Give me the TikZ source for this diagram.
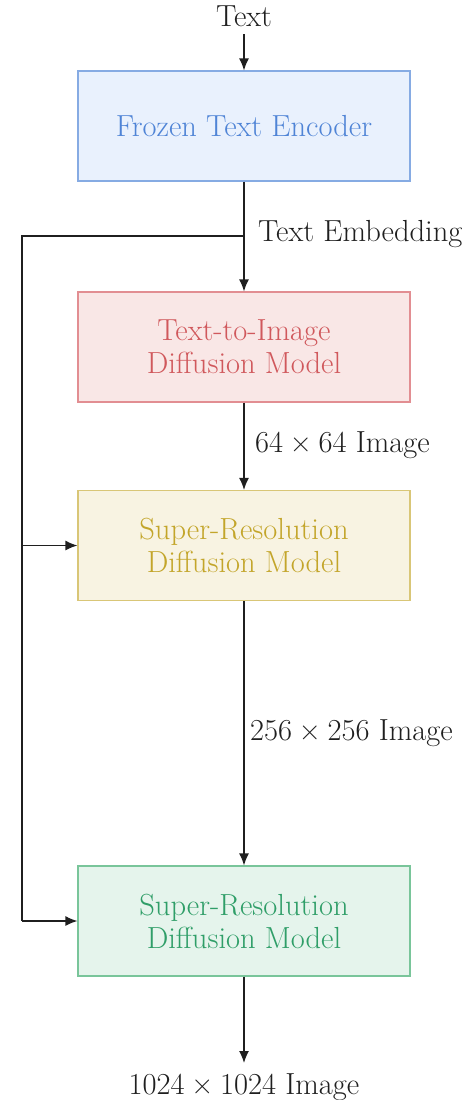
\documentclass[tikz,border=0pt]{standalone}
\usetikzlibrary{arrows.meta}
\definecolor{bluefill}{HTML}{E9F1FD}
\definecolor{blueline}{HTML}{86ABE3}
\definecolor{bluetext}{HTML}{4F84D6}
\definecolor{redfill}{HTML}{F9E7E6}
\definecolor{redline}{HTML}{E28E92}
\definecolor{redtext}{HTML}{D0585C}
\definecolor{yelfill}{HTML}{F8F3E2}
\definecolor{yelline}{HTML}{D9C677}
\definecolor{yeltext}{HTML}{C3A52A}
\definecolor{grnfill}{HTML}{E5F4EC}
\definecolor{grnline}{HTML}{79C59A}
\definecolor{grntext}{HTML}{2F9E68}
\newcommand{\tms}{\hspace{0.22em}×\hspace{0.22em}}
\begin{document}
\begin{tikzpicture}[x=1pt,y=1pt,
  every node/.style={font=\fontsize{30.5}{33}\selectfont},
  box/.style={draw, line width=1.2pt, minimum width=332pt, minimum height=110pt, align=center, inner sep=0pt},
  conn/.style={line width=1.3pt, black!88},
  arr/.style={conn, -{Latex[length=12pt,width=10pt]}},
  lbl/.style={anchor=west, inner sep=0pt, text=black!88}]
\useasboundingbox (0,0) rectangle (466,-1100);
\node[text=black!88] (txt) at (244,-16) {Text};
\node[box, fill=bluefill, draw=blueline, text=bluetext] (enc) at (244,-126) {Frozen Text Encoder};
\node[box, fill=redfill, draw=redline, text=redtext] (t2i) at (244,-347) {Text-to-Image\\Diffusion Model};
\node[box, fill=yelfill, draw=yelline, text=yeltext] (sr1) at (244,-545.5) {Super-Resolution\\Diffusion Model};
\node[box, fill=grnfill, draw=grnline, text=grntext] (sr2) at (244,-921) {Super-Resolution\\Diffusion Model};
\node[anchor=north, inner sep=0pt, text=black!88] (out) at (244,-1073) {1024\tms1024 Image};
\coordinate (br) at (244,-236);
\coordinate (lft) at (22,-236);
\node[lbl] (lemb) at (258,-234) {Text Embedding};
\node[lbl] (l64) at (255,-445) {64\tms64 Image};
\node[lbl] (l256) at (250,-733) {256\tms256 Image};
\draw[arr] (txt.south) ++(0,-4) -- (enc.north);
\draw[arr] (enc.south) -- (t2i.north);
\draw[arr] (t2i.south) -- (sr1.north);
\draw[arr] (sr1.south) -- (sr2.north);
\draw[arr] (sr2.south) -- ([yshift=10pt]out.north);
\draw[conn] (br) -- (lft) -- (lft |- sr2.west);
\draw[arr] (lft |- sr1.west) -- (sr1.west);
\draw[arr] (lft |- sr2.west) -- (sr2.west);
\end{tikzpicture}
\end{document}
